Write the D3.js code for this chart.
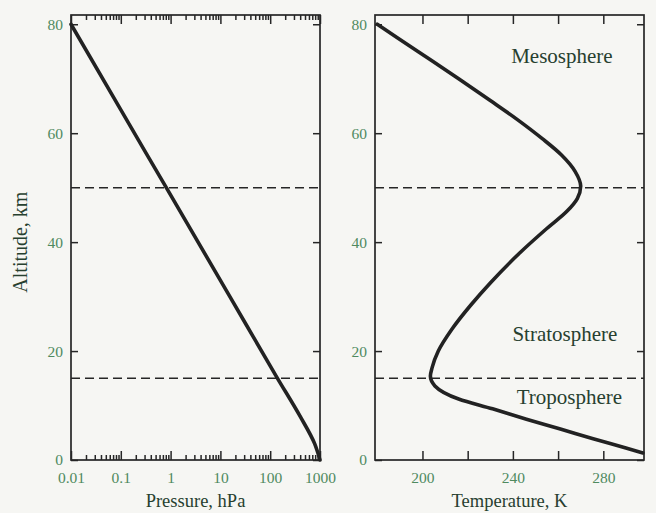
<!DOCTYPE html>
<html><head><meta charset="utf-8">
<script src="https://cdn.jsdelivr.net/npm/d3@7/dist/d3.min.js"></script>
<style>
html,body{margin:0;padding:0;background:#f6f6f3;}
svg{display:block;}
</style></head>
<body>
<svg id="chart" width="656" height="513"></svg>
<script>
// ---- data ----
const altitudeP = [0, 3, 8, 15, 30, 50, 65, 80];
const pressure  = [1000, 780, 400, 140, 15.5, 0.82, 0.09, 0.01];

const altitudeT   = [1.3, 2.2, 3.9, 5.7, 7.5, 9.4, 11.2, 13.6, 15.4, 17, 20, 24, 28.5, 32.5, 38, 42.5, 45.7, 48, 50.3, 53, 56, 59, 62.5, 66, 70, 75, 80];
const temperature = [297.5, 290, 275.5, 261, 246, 231, 216, 205.5, 203.5, 204.3, 207, 213, 221.5, 230, 243, 255, 264, 268.5, 270, 267.5, 261.5, 253, 242, 230, 216, 198, 180];

const pressureTicks = [0.01, 0.1, 1, 10, 100, 1000];
const pressureTickLabels = ["0.01", "0.1", "1", "10", "100", "1000"];
const tempTicks = [200, 220, 240, 260, 280];
const tempTickLabels = ["200", "", "240", "", "280"];
const altTicks = [0, 20, 40, 60, 80];
const altTickLabels = ["0", "20", "40", "60", "80"];
const boundaryAlts = [15, 50];
const layerNames = ["Mesosphere", "Stratosphere", "Troposphere"];
const layerT = [261.7, 263, 265];
const layerAlt = [72.8, 21.8, 10.3];

// ---- drawing ----
const svg = d3.select("#chart");
const serif = "'Liberation Serif', 'Times New Roman', serif";
const ink = "#262626";
const tickGreen = "#4f8a5f";
const labelInk = "#27402f";

const y = d3.scaleLinear().domain([0, 81.7]).range([460, 15]);
const xP = d3.scaleLog().domain([0.01, 1000]).range([71, 320]);
const xT = d3.scaleLinear().domain([179, 298]).range([375, 644]);

function styleAxis(g, showText) {
  g.select(".domain").remove();
  g.selectAll(".tick line").attr("stroke", ink).attr("stroke-width", 1.5);
  g.selectAll("text").attr("font-family", serif).attr("font-size", 15.5).attr("fill", tickGreen);
  if (!showText) g.selectAll("text").remove();
}

// minor log ticks
const minorP = [];
for (let e = -2; e < 3; e++) for (let k = 2; k <= 9; k++) minorP.push(k * Math.pow(10, e));

function panel(x, xTicksMajor, xLabels, minor, curveX, curveAlt, xTitle) {
  const [x0, x1] = x.range();
  const [yb, yt] = y.range();
  const g = svg.append("g");

  // dashed boundaries
  g.selectAll("line.bound").data(boundaryAlts).enter().append("line")
    .attr("x1", x0).attr("x2", x1)
    .attr("y1", d => y(d)).attr("y2", d => y(d))
    .attr("stroke", ink).attr("stroke-width", 1.5).attr("stroke-dasharray", "9,5");

  // axes
  g.append("g").attr("transform", `translate(${x0},0)`)
    .call(d3.axisLeft(y).tickValues(altTicks).tickFormat((d, i) => altTickLabels[i]).tickSize(-7).tickPadding(8))
    .call(a => styleAxis(a, true));
  g.append("g").attr("transform", `translate(${x1},0)`)
    .call(d3.axisRight(y).tickValues(altTicks).tickSize(-7))
    .call(a => styleAxis(a, false));
  g.append("g").attr("transform", `translate(0,${yb})`)
    .call(d3.axisBottom(x).tickValues(xTicksMajor).tickFormat((d, i) => xLabels[i]).tickSize(-9).tickPadding(12))
    .call(a => styleAxis(a, true));
  g.append("g").attr("transform", `translate(0,${yt})`)
    .call(d3.axisTop(x).tickValues(xTicksMajor).tickSize(-9))
    .call(a => styleAxis(a, false));
  if (minor) {
    g.append("g").attr("transform", `translate(0,${yb})`)
      .call(d3.axisBottom(x).tickValues(minor).tickSize(-5))
      .call(a => styleAxis(a, false));
    g.append("g").attr("transform", `translate(0,${yt})`)
      .call(d3.axisTop(x).tickValues(minor).tickSize(-5))
      .call(a => styleAxis(a, false));
  }

  // frame
  g.append("rect").attr("x", x0).attr("y", yt).attr("width", x1 - x0).attr("height", yb - yt)
    .attr("fill", "none").attr("stroke", ink).attr("stroke-width", 1.7);

  // profile
  const pts = curveX.map((v, i) => [x(v), y(curveAlt[i])]);
  g.append("path").attr("d", d3.line().curve(d3.curveMonotoneY)(pts))
    .attr("fill", "none").attr("stroke", "#222").attr("stroke-width", 3.6)
    .attr("stroke-linecap", "round").attr("stroke-linejoin", "round");

  // x title
  g.append("text").attr("x", (x0 + x1) / 2).attr("y", 507)
    .attr("text-anchor", "middle").attr("font-family", serif).attr("font-size", 18.5)
    .attr("fill", labelInk).text(xTitle);
  return g;
}

panel(xP, pressureTicks, pressureTickLabels, minorP, pressure, altitudeP, "Pressure, hPa");
const gT = panel(xT, tempTicks, tempTickLabels, null, temperature, altitudeT, "Temperature, K");

gT.selectAll("text.layer").data(layerNames).enter().append("text")
  .attr("class", "layer")
  .attr("x", (d, i) => xT(layerT[i])).attr("y", (d, i) => y(layerAlt[i]))
  .attr("text-anchor", "middle").attr("font-family", serif).attr("font-size", 21)
  .attr("fill", labelInk).text(d => d);

// y title
svg.append("text")
  .attr("transform", `translate(27,${y(40)}) rotate(-90)`)
  .attr("text-anchor", "middle").attr("font-family", serif).attr("font-size", 20)
  .attr("fill", labelInk).text("Altitude, km");
</script>
</body></html>
